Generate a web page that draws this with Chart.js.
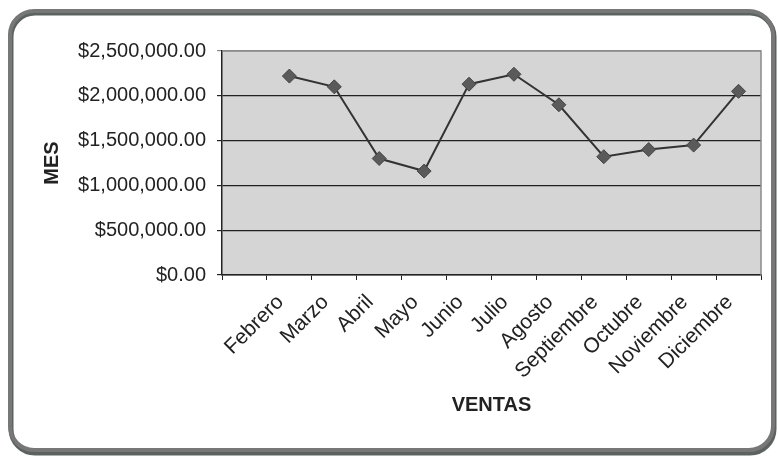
<!DOCTYPE html>
<html>
<head>
<meta charset="utf-8">
<script src="https://cdn.jsdelivr.net/npm/chart.js@4.4.1/dist/chart.umd.min.js"></script>
<style>
  html, body { margin: 0; padding: 0; background: #fff; }
  #ventasChart { display: block; }
</style>
</head>
<body>
<canvas id="ventasChart" width="778" height="459"></canvas>
<script>
// monthly sales, first slot left empty
const meses = ['', 'Febrero', 'Marzo', 'Abril', 'Mayo', 'Junio', 'Julio', 'Agosto',
  'Septiembre', 'Octubre', 'Noviembre', 'Diciembre'];
const ventas = [null, 2220000, 2100000, 1300000, 1160000, 2130000, 2240000, 1900000,
  1320000, 1400000, 1450000, 2050000];
const yMax = 2500000;
const yStep = 500000;

const FONT = '"Liberation Sans", Arial, sans-serif';
const INK = '#222';

const money = v => '$' + Number(v).toLocaleString('en-US', { minimumFractionDigits: 2, maximumFractionDigits: 2 });

// grey plot area + rounded frame around the whole chart
const frame = {
  id: 'frame',
  beforeDraw(chart) {
    const { ctx, chartArea: a } = chart;
    ctx.save();
    ctx.fillStyle = '#d5d5d5';
    ctx.fillRect(a.left, a.top, a.right - a.left, a.bottom - a.top);

    // outer box, darker edge below and to the right
    ctx.lineJoin = 'round';
    ctx.strokeStyle = '#5b625f';
    ctx.lineWidth = 5;
    ctx.beginPath();
    ctx.roundRect(11, 13, 763, 440, 24);
    ctx.stroke();
    ctx.strokeStyle = '#777';
    ctx.lineWidth = 4;
    ctx.beginPath();
    ctx.roundRect(10, 11, 763, 439, 24);
    ctx.stroke();
    ctx.restore();
  },
  afterDatasetsDraw(chart) {
    const { ctx, chartArea: a } = chart;
    ctx.save();
    ctx.strokeStyle = '#8a8a8a';
    ctx.lineWidth = 1.5;
    ctx.beginPath();
    ctx.moveTo(a.left, a.top);
    ctx.lineTo(a.right, a.top);
    ctx.lineTo(a.right, a.bottom);
    ctx.stroke();
    ctx.restore();
  }
};

new Chart(document.getElementById('ventasChart'), {
  type: 'line',
  data: {
    labels: meses,
    datasets: [{
      data: ventas,
      borderColor: '#333',
      borderWidth: 2,
      pointStyle: 'rectRot',
      pointRadius: 7,
      pointBackgroundColor: '#5a5a5a',
      pointBorderColor: '#444',
      pointBorderWidth: 1,
      tension: 0,
      spanGaps: false
    }]
  },
  options: {
    responsive: false,
    animation: false,
    devicePixelRatio: 1,
    layout: { padding: { left: 34, right: 17, top: 51, bottom: 40 } },
    plugins: { legend: { display: false }, tooltip: { enabled: false } },
    scales: {
      x: {
        type: 'category',
        offset: true,
        afterFit: s => { s.height = 459 - 275 - 40; },
        grid: { offset: true, drawOnChartArea: false, drawTicks: true, tickLength: 5, color: INK, lineWidth: 1 },
        border: { color: INK, width: 1.5 },
        ticks: {
          autoSkip: false, minRotation: 45, maxRotation: 45, padding: 10, labelOffset: -9,
          color: INK, font: { family: FONT, size: 21 }
        },
        title: {
          display: true, text: 'VENTAS', color: INK,
          font: { family: FONT, size: 20, weight: 'bold' },
          padding: { top: 0, bottom: 2 }
        }
      },
      y: {
        min: 0,
        max: yMax,
        afterFit: s => { s.width = 222 - 34; },
        grid: {
          color: c => (c.tick && c.tick.value === yMax ? '#8a8a8a' : INK),
          lineWidth: 1.2, tickLength: 5
        },
        border: { color: INK, width: 1.5 },
        ticks: {
          stepSize: yStep, padding: 11, color: INK,
          font: { family: FONT, size: 20 },
          callback: v => money(v)
        },
        title: {
          display: true, text: 'MES', color: INK,
          font: { family: FONT, size: 20, weight: 'bold' },
          padding: { top: 6, bottom: 4 }
        }
      }
    }
  },
  plugins: [frame]
});
</script>
</body>
</html>
